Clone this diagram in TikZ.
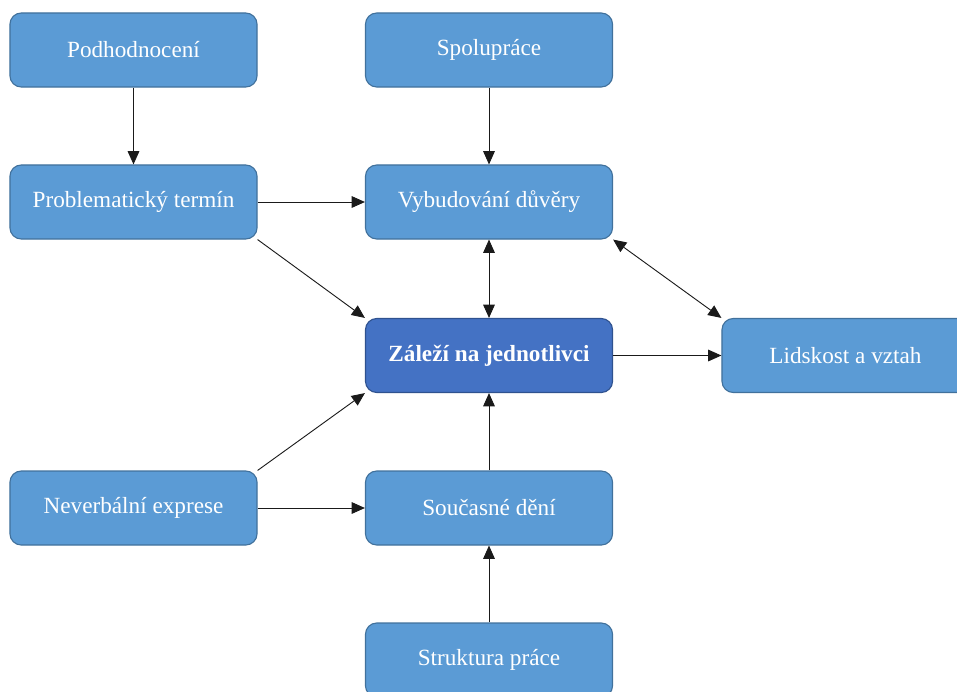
\documentclass[tikz,border=0pt]{standalone}
\usepackage{fontspec}
\setmainfont{Liberation Serif}
\usepackage{xcolor}
\usepackage{tikz}
\usetikzlibrary{arrows.meta,positioning}
\definecolor{boxc}{HTML}{5B9BD5}
\definecolor{boxl}{HTML}{41719C}
\definecolor{mainc}{HTML}{4472C4}
\definecolor{mainl}{HTML}{2F528F}
\definecolor{linec}{HTML}{1A1A1A}
\tikzset{
  ar/.style={-{Triangle[length=3.3mm,width=2.9mm]},line width=0.65pt,linec},
  dar/.style={{Triangle[length=3.3mm,width=2.9mm]}-{Triangle[length=3.3mm,width=2.9mm]},line width=0.65pt,linec},
  box/.style={draw=boxl,line width=0.8pt,rounded corners=8pt,fill=boxc,text=white,
    minimum width=6.175cm,minimum height=1.85cm,inner sep=0pt,
    font=\fontsize{16.5}{19}\selectfont},
  keybox/.style={box,fill=mainc,draw=mainl,font=\fontsize{16.5}{19}\selectfont\bfseries}
}

\begin{document}
\begin{tikzpicture}[x=0.025cm,y=-0.025cm]
\useasboundingbox (0,0) rectangle (957,691);
% top row
\node[box] (pod) at (133.5,50) {Podhodnocení};
\node[box] (spol) at (489,50) {Spolupráce};
% second row
\node[box] (prob) at (133.5,202) {Problematický termín};
\node[box] (vyb) at (489,202) {Vybudování důvěry};
% middle
\node[keybox] (zal) at (489,355.5) {Záleží na jednotlivci};
\node[box] (lid) at (845.5,355.5) {Lidskost a vztah};
% lower rows
\node[box] (nev) at (133.5,508) {Neverbální exprese};
\node[box] (soucas) at (489,508) {Současné dění};
\node[box] (strukt) at (489,660) {Struktura práce};
% connectors
\draw[ar] (pod) -- (prob);
\draw[ar] (spol) -- (vyb);
\draw[ar] (prob) -- (vyb);
\draw[ar] (prob.south east) -- (zal.north west);
\draw[dar] (vyb) -- (zal);
\draw[dar] (vyb.south east) -- (lid.north west);
\draw[ar] (zal) -- (lid);
\draw[ar] (nev.north east) -- (zal.south west);
\draw[ar] (nev) -- (soucas);
\draw[ar] (soucas) -- (zal);
\draw[ar] (strukt) -- (soucas);
\end{tikzpicture}
\end{document}
